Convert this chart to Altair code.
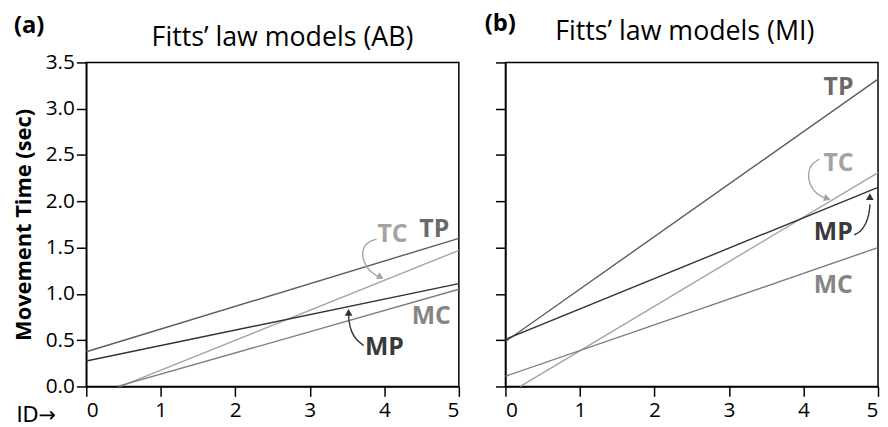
import altair as alt
import pandas as pd

FONT = "Open Sans"

SERIES = ["TP", "TC", "MP", "MC"]
LINE_COLORS = ["#5c5c5c", "#a3a3a3", "#333333", "#7d7d7d"]
LABEL_COLORS = ["#6a6a6a", "#a3a3a3", "#3a3a3a", "#858585"]

# (a) AB models: line endpoints (ID, MT)
AB_ID_START = [0.0, 0.46, 0.0, 0.42]
AB_MT_START = [0.375, 0.0, 0.275, 0.0]
AB_ID_END = [5.0, 5.0, 5.0, 5.0]
AB_MT_END = [1.60, 1.47, 1.11, 1.05]
AB_LABEL_ID = [4.67, 4.11, 4.00, 4.63]
AB_LABEL_MT = [1.70, 1.65, 0.43, 0.76]

# (b) MI models
MI_ID_START = [0.0, 0.20, 0.0, 0.0]
MI_MT_START = [0.485, 0.0, 0.51, 0.11]
MI_ID_END = [5.0, 5.0, 5.0, 5.0]
MI_MT_END = [3.32, 2.31, 2.15, 1.50]
MI_LABEL_ID = [4.47, 4.47, 4.40, 4.40]
MI_LABEL_MT = [3.23, 2.41, 1.67, 1.09]

# curved annotation arrows (data coordinates)
AB_TC_ARROW_ID = [3.896, 3.754, 3.697, 3.723, 3.799, 3.910]
AB_TC_ARROW_MT = [1.592, 1.556, 1.449, 1.342, 1.246, 1.189]
AB_MP_ARROW_ID = [3.723, 3.621, 3.555, 3.524, 3.520]
AB_MP_ARROW_MT = [0.442, 0.503, 0.592, 0.699, 0.789]
MI_TC_ARROW_ID = [4.213, 4.103, 4.057, 4.080, 4.169, 4.280]
MI_TC_ARROW_MT = [2.455, 2.401, 2.305, 2.181, 2.080, 2.037]
MI_MP_ARROW_ID = [4.680, 4.769, 4.836, 4.880, 4.893]
MI_MP_ARROW_MT = [1.638, 1.673, 1.752, 1.860, 1.967]

AB_HEAD_ID = [3.95, 3.52]
AB_HEAD_MT = [1.18, 0.80]
AB_HEAD_ANGLE = [115, 0]
MI_HEAD_ID = [4.32, 4.89]
MI_HEAD_MT = [2.03, 2.05]
MI_HEAD_ANGLE = [105, 0]
HEAD_COLORS = ["#a3a3a3", "#333333"]

Y_TICKS = [0, 0.5, 1.0, 1.5, 2.0, 2.5, 3.0, 3.5]
X_TICKS = [0, 1, 2, 3, 4, 5]

W, H = 376, 327


def panel(id0, mt0, id1, mt1, lab_id, lab_mt, arrows, head_id, head_mt, head_ang,
          title, tag, tag_x, tag_y, title_x, title_y, left):
    lines = pd.DataFrame({"series": SERIES, "id": id0, "mt": mt0,
                          "id1": id1, "mt1": mt1, "color": LINE_COLORS})
    labels = pd.DataFrame({"series": SERIES, "id": lab_id, "mt": lab_mt,
                           "color": LABEL_COLORS})
    arr_rows = []
    for k, (xs, ys, col) in enumerate(arrows):
        for i, (a, b) in enumerate(zip(xs, ys)):
            arr_rows.append({"arrow": k, "i": i, "id": a, "mt": b, "color": col})
    arr = pd.DataFrame(arr_rows)
    heads = pd.DataFrame({"id": head_id, "mt": head_mt, "angle": head_ang,
                          "color": HEAD_COLORS})

    if left:
        xaxis = alt.Axis(values=X_TICKS, format="d", title="ID→", titleX=-71, titleY=35,
                         titleAlign="left", titleBaseline="alphabetic",
                         titleFont="DejaVu Sans", titleFontSize=21,
                         titleFontWeight="normal", labelPadding=3)
        yaxis = alt.Axis(values=Y_TICKS, format=".1f", title="Movement Time (sec)",
                         titleFont=FONT, titleFontSize=22, titleFontWeight="bold",
                         titlePadding=10, labelPadding=2)
    else:
        xaxis = alt.Axis(values=X_TICKS, format="d", title=None, labelPadding=3)
        yaxis = alt.Axis(values=Y_TICKS, labels=False, title=None)

    xs = alt.Scale(domain=[0, 5], nice=False)
    ys = alt.Scale(domain=[0, 3.5], nice=False)
    X = alt.X("id:Q", scale=xs, axis=xaxis)
    Y = alt.Y("mt:Q", scale=ys, axis=yaxis)

    base_lines = alt.Chart(lines).mark_rule(strokeWidth=1.4).encode(
        x=X, y=Y, x2="id1:Q", y2="mt1:Q",
        color=alt.Color("color:N", scale=None),
    )
    text = alt.Chart(labels).mark_text(font=FONT, fontSize=25, fontWeight="bold").encode(
        x=X, y=Y, text="series:N", color=alt.Color("color:N", scale=None)
    )
    arrow_lines = alt.Chart(arr).mark_line(strokeWidth=1.4, interpolate="basis").encode(
        x=X, y=Y, detail="arrow:N", order="i:Q",
        color=alt.Color("color:N", scale=None),
    )
    arrow_heads = alt.Chart(heads).mark_point(shape="triangle-up", filled=True,
                                              size=60, opacity=1).encode(
        x=X, y=Y, angle=alt.Angle("angle:Q", scale=None),
        color=alt.Color("color:N", scale=None),
    )
    tag_df = pd.DataFrame({"t": [tag]})
    tag_mark = alt.Chart(tag_df).mark_text(font=FONT, fontSize=24, fontWeight="bold",
                                           align="left", baseline="alphabetic",
                                           color="black").encode(
        x=alt.value(tag_x), y=alt.value(tag_y), text="t:N"
    )
    title_df = pd.DataFrame({"t": [title]})
    title_mark = alt.Chart(title_df).mark_text(font=FONT, fontSize=27, fontWeight="normal",
                                               align="center", baseline="alphabetic",
                                               color="black").encode(
        x=alt.value(title_x), y=alt.value(title_y), text="t:N"
    )
    return alt.layer(base_lines, arrow_lines, arrow_heads, text, tag_mark,
                     title_mark).properties(width=W, height=H)


left = panel(AB_ID_START, AB_MT_START, AB_ID_END, AB_MT_END, AB_LABEL_ID, AB_LABEL_MT,
             [(AB_TC_ARROW_ID, AB_TC_ARROW_MT, "#a3a3a3"),
              (AB_MP_ARROW_ID, AB_MP_ARROW_MT, "#333333")],
             AB_HEAD_ID, AB_HEAD_MT, AB_HEAD_ANGLE,
             "Fitts’ law models (AB)", "(a)", -73, -30, W / 2 + 10, -17, True)
right = panel(MI_ID_START, MI_MT_START, MI_ID_END, MI_MT_END, MI_LABEL_ID, MI_LABEL_MT,
              [(MI_TC_ARROW_ID, MI_TC_ARROW_MT, "#a3a3a3"),
               (MI_MP_ARROW_ID, MI_MP_ARROW_MT, "#333333")],
              MI_HEAD_ID, MI_HEAD_MT, MI_HEAD_ANGLE,
              "Fitts’ law models (MI)", "(b)", -21, -32, W / 2 - 7, -23, False)

chart = alt.hconcat(left, right, spacing=23).properties(
    padding={"left": 3, "top": 1, "right": 0, "bottom": 0}
).configure_view(
    stroke="black", strokeWidth=1.5
).configure_axis(
    grid=False, domainColor="black", domainWidth=1.5, tickColor="black",
    tickWidth=1.5, tickSize=10, labelFont=FONT, labelFontSize=21, labelColor="black",
    titleColor="black",
)

chart.save("out.html", embed_options={"renderer": "svg", "actions": False})
